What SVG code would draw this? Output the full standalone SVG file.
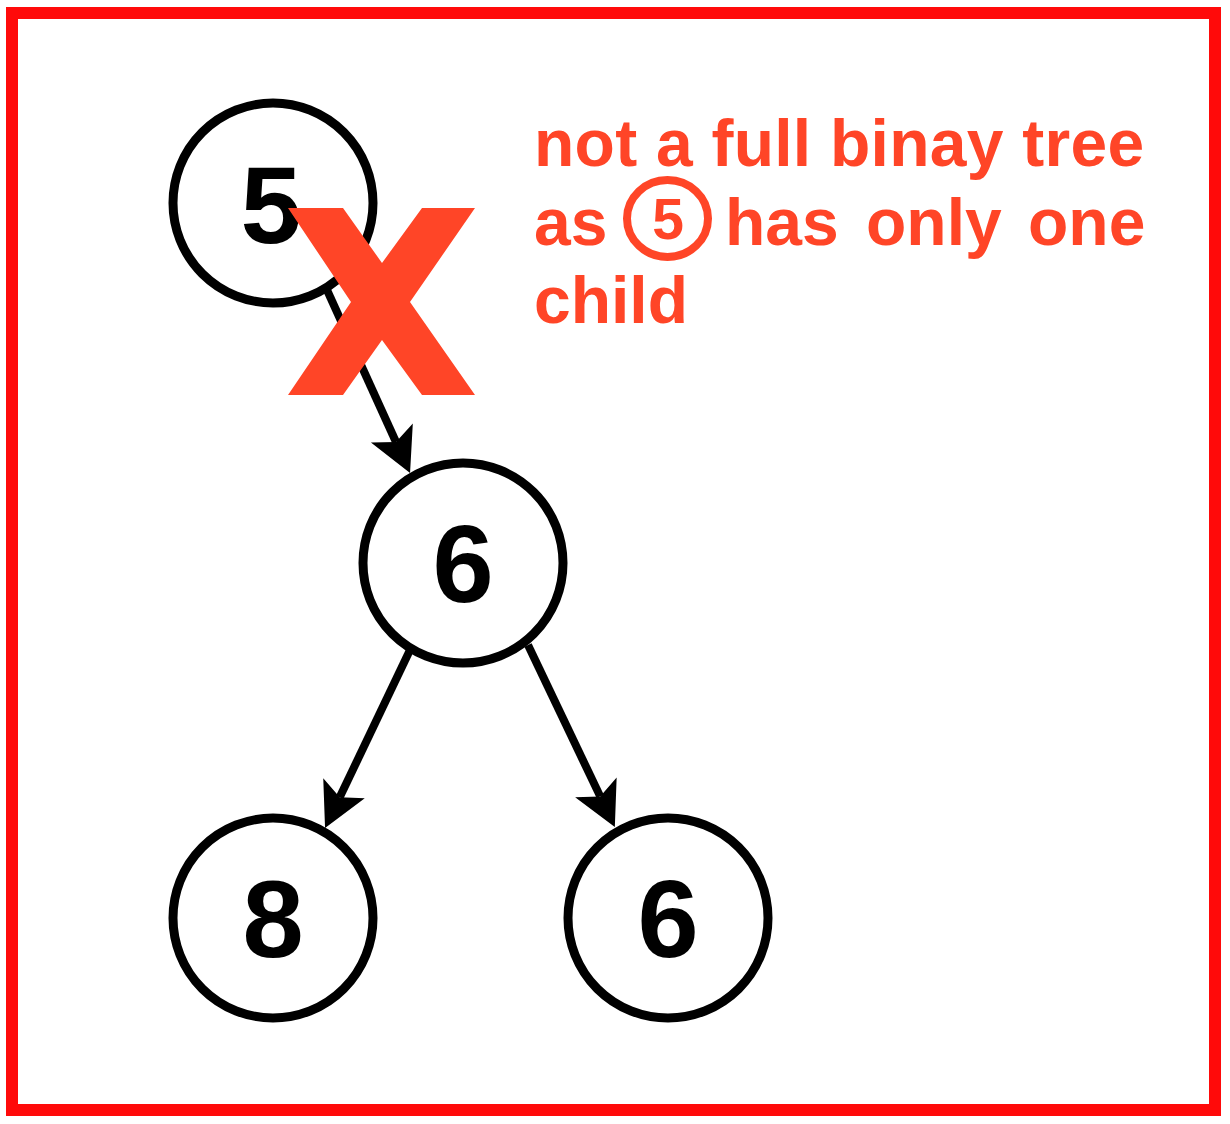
<svg xmlns="http://www.w3.org/2000/svg" width="1230" height="1124" viewBox="0 0 1230 1124">
<style>
.node circle{fill:#fff;stroke:#000;stroke-width:9}
.num{font-family:"Liberation Sans",Arial,sans-serif;font-weight:bold;font-size:110px;text-anchor:middle;fill:#000}
.edge{stroke:#000;stroke-width:8;fill:none;marker-end:url(#arrow)}
.note{font-family:"Liberation Sans",Arial,sans-serif;font-weight:bold;font-size:66px;fill:#FF4527}
</style>
<defs>
<marker id="arrow" markerUnits="userSpaceOnUse" viewBox="-12 -25 48 50" refX="0" refY="0" markerWidth="48" markerHeight="50" orient="auto">
<path d="M34 0 L-10 -23 L0 0 L-10 23 Z" fill="#000"/>
</marker>
</defs>
<rect x="12" y="13" width="1203" height="1097" fill="#fff" stroke="#FF0A0A" stroke-width="12"/>
<g id="connectors">
<line class="edge" x1="327" y1="290" x2="396" y2="442"/>
<line class="edge" x1="410" y1="650" x2="339.7" y2="797.3"/>
<line class="edge" x1="528" y1="645" x2="600.2" y2="796.4"/>
</g>
<g id="node5" class="node"><circle cx="273" cy="203" r="100"/><text class="num" x="271" y="243">5</text></g>
<g id="node6" class="node"><circle cx="463" cy="563" r="100"/><text class="num" x="463" y="602">6</text></g>
<g id="node8" class="node"><circle cx="273" cy="918" r="100"/><text class="num" x="273" y="957">8</text></g>
<g id="node6b" class="node"><circle cx="668" cy="918" r="100"/><text class="num" x="668" y="957">6</text></g>
<g id="cross">
<polygon fill="#FF4527" points="288,208 343,208 382,263 422,208 475,208 410,302 475,395 422,395 382,340 343,395 288,395 351,302"/>
</g>
<g id="note">
<text class="note" x="534" y="166" letter-spacing="0.25">not a full binay tree</text>
<text class="note" y="245"><tspan x="534">as</tspan><tspan x="725">has</tspan><tspan x="866">only</tspan><tspan x="1028">one</tspan></text>
<ellipse cx="667.5" cy="218.5" rx="40.5" ry="38.5" fill="none" stroke="#FF4527" stroke-width="8"/>
<text class="note" x="668" y="239" text-anchor="middle" style="font-size:57px">5</text>
<text class="note" x="534" y="323">child</text>
</g>
</svg>
